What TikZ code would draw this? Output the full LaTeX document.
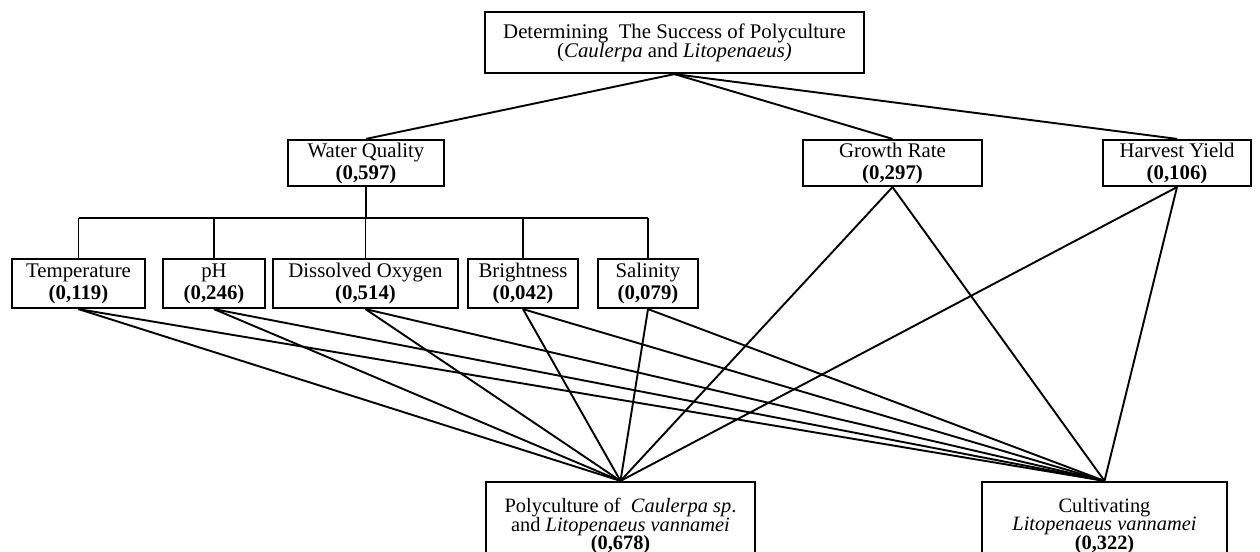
\documentclass[tikz,border=0pt]{standalone}
\usepackage{fontspec}
\setmainfont{Liberation Serif}
\begin{document}
\begin{tikzpicture}[x=0.5pt,y=-0.5pt,
  box/.style={draw,line width=1.1pt,rectangle,align=center,inner sep=0pt,
    font=\fontsize{10.4}{11}\selectfont},
  link/.style={line width=0.95pt}]
\useasboundingbox (0,0) rectangle (1260,552);
% goal
\node[box,minimum width=189.5pt,minimum height=30.5pt,font=\fontsize{10.4}{9.6}\selectfont] (goal) at (674.5,42.5)
  {Determining\ \ The Success of Polyculture\\(\textit{Caulerpa} and \textit{Litopenaeus)}};
% criteria
\node[box,minimum width=78pt,minimum height=23pt] (wq) at (366,163) {Water Quality\\\textbf{(0,597)}};
\node[box,minimum width=89.5pt,minimum height=23pt] (gr) at (892.5,163) {Growth Rate\\\textbf{(0,297)}};
\node[box,minimum width=74pt,minimum height=23pt] (hy) at (1177,163) {Harvest Yield\\\textbf{(0,106)}};
% sub-criteria
\node[box,minimum width=66.5pt,minimum height=24.5pt] (temp) at (78.5,283.5) {Temperature\\\textbf{(0,119)}};
\node[box,minimum width=51pt,minimum height=24.5pt] (ph) at (214,283.5) {pH\\\textbf{(0,246)}};
\node[box,minimum width=92.5pt,minimum height=24.5pt] (dox) at (365.5,283.5) {Dissolved Oxygen\\\textbf{(0,514)}};
\node[box,minimum width=55pt,minimum height=24.5pt] (br) at (523,283.5) {Brightness\\\textbf{(0,042)}};
\node[box,minimum width=50pt,minimum height=24.5pt] (sal) at (648,283.5) {Salinity\\\textbf{(0,079)}};
% alternatives
\node[box,minimum width=134.5pt,minimum height=44pt,font=\fontsize{10.2}{9.4}\selectfont] (poly) at (620.5,526)
  {Polyculture of\ \ \textit{Caulerpa sp}.\\and \textit{Litopenaeus vannamei}\\\textbf{(0,678)}};
\node[box,minimum width=122.5pt,minimum height=44pt,font=\fontsize{10.2}{9.4}\selectfont] (cult) at (1104.5,526)
  {Cultivating\\\textit{Litopenaeus vannamei}\\\textbf{(0,322)}};
% goal to criteria
\draw[link] (goal.south) -- (wq.north);
\draw[link] (goal.south) -- (gr.north);
\draw[link] (goal.south) -- (hy.north);
% water quality tree
\coordinate (bar) at (0,218);
\draw[link] (wq.south) -- (wq.south |- bar);
\draw[link] (temp.north |- bar) -- (sal.north |- bar);
\foreach \s in {temp,ph,dox,br,sal} {\draw[link] (\s.north) -- (\s.north |- bar);}
% to alternatives
\foreach \s in {temp,ph,dox,br,sal,gr,hy} {
  \draw[link] (\s.south) -- (poly.north);
  \draw[link] (\s.south) -- (cult.north);
}
\end{tikzpicture}
\end{document}
